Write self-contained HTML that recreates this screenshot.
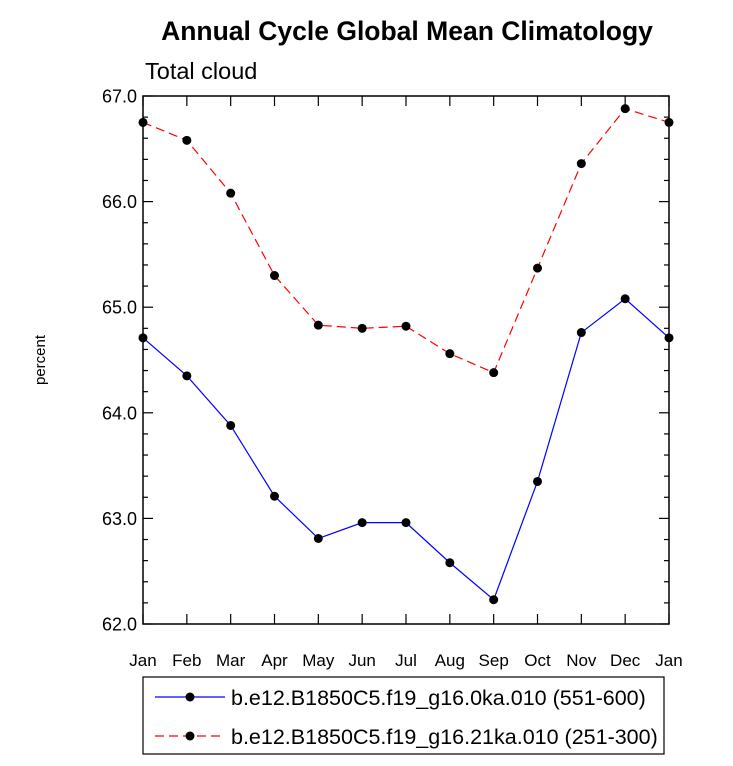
<!DOCTYPE html>
<html><head><meta charset="utf-8"><style>
body{margin:0;background:#fff;}
svg text{font-family:"Liberation Sans",Helvetica,Arial,sans-serif;}
</style></head><body>
<svg id="chart" width="733" height="761" xmlns="http://www.w3.org/2000/svg">
<text x="407" y="40" text-anchor="middle" font-size="26.5" font-weight="bold">Annual Cycle Global Mean Climatology</text>
<text x="145" y="79" font-size="23.5">Total cloud</text>
<text transform="translate(45,360) rotate(-90)" text-anchor="middle" font-size="15">percent</text>
<rect x="143" y="96" width="526" height="528" fill="none" stroke="#000" stroke-width="1.5"/>
<g id="axes"></g>
<g id="series"></g>
<g>
<rect x="143" y="677" width="521" height="77" fill="none" stroke="#000" stroke-width="1.2"/>
<g>
<line x1="155" y1="697" x2="225" y2="697" stroke="#0000ff" stroke-width="1.2"/>
<circle cx="190" cy="697" r="4.5" fill="#000"/>
<text x="231" y="705" font-size="21.5">b.e12.B1850C5.f19_g16.0ka.010 (551-600)</text></g>
<g>
<line x1="155" y1="736" x2="225" y2="736" stroke="#ff0000" stroke-width="1.2" stroke-dasharray="9,5"/>
<circle cx="190" cy="736" r="4.5" fill="#000"/>
<text x="231" y="744" font-size="21.5">b.e12.B1850C5.f19_g16.21ka.010 (251-300)</text></g>
</g>
</svg>
<script>
const months=["Jan","Feb","Mar","Apr","May","Jun","Jul","Aug","Sep","Oct","Nov","Dec","Jan"];
const blueValues=[64.71,64.35,63.88,63.21,62.81,62.96,62.96,62.58,62.23,63.35,64.76,65.08,64.71];
const redValues=[66.75,66.58,66.08,65.30,64.83,64.80,64.82,64.56,64.38,65.37,66.36,66.88,66.75];
const yTicks=[62,63,64,65,66,67];
const ns="http://www.w3.org/2000/svg";
const X0=143,X1=669,Y0=624,Y1=96,YMIN=62,YMAX=67;
const xs=i=>X0+(X1-X0)*i/(months.length-1);
const ys=v=>Y0-(Y0-Y1)*(v-YMIN)/(YMAX-YMIN);
function mk(t,a,p){const e=document.createElementNS(ns,t);for(const k in a)e.setAttribute(k,a[k]);p.appendChild(e);return e;}
const ax=document.getElementById('axes');
months.forEach((m,i)=>{
 const x=xs(i);
 mk('line',{x1:x,y1:Y0,x2:x,y2:Y0-10,stroke:'#000','stroke-width':1.2},ax);
 mk('line',{x1:x,y1:Y1,x2:x,y2:Y1+10,stroke:'#000','stroke-width':1.2},ax);
 const t=mk('text',{x:x,y:Y0+42,'text-anchor':'middle','font-size':17},ax);
 t.textContent=m;
 
 
});
for(let v=YMIN;v<=YMAX+1e-9;v+=0.2){
 const y=ys(v),major=Math.abs(v-Math.round(v))<1e-6,L=major?10:5;
 mk('line',{x1:X0,y1:y,x2:X0+L,y2:y,stroke:'#000','stroke-width':1.2},ax);
 mk('line',{x1:X1,y1:y,x2:X1-L,y2:y,stroke:'#000','stroke-width':1.2},ax);
}
yTicks.forEach(v=>{
 const t=mk('text',{x:X0-6,y:ys(v)+6.5,'text-anchor':'end','font-size':18},ax);
 t.textContent=v.toFixed(1);
 
 
});
const sg=document.getElementById('series');
function draw(vals,color,dash,name){
 const g=mk('g',{},sg);
 
 
 const pts=vals.map((v,i)=>xs(i)+','+ys(v)).join(' ');
 const a={points:pts,fill:'none',stroke:color,'stroke-width':1.2};
 if(dash)a['stroke-dasharray']=dash;
 mk('polyline',a,g);
 vals.forEach((v,i)=>{const c=mk('circle',{cx:xs(i),cy:ys(v),r:4.5,fill:'#000'},g);
  
  });
}
draw(redValues,'#ff0000','9,5','series-21ka');
draw(blueValues,'#0000ff',null,'series-0ka');
</script>
</body></html>
